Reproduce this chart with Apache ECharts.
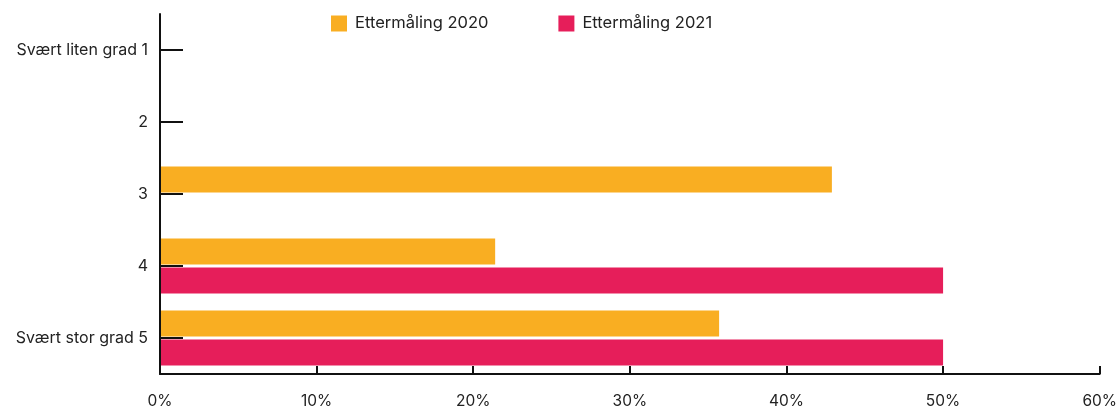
<!DOCTYPE html>
<html>
<head>
<meta charset="utf-8">
<script src="https://cdn.jsdelivr.net/npm/echarts@6/dist/echarts.min.js"></script>
<style>html,body{margin:0;padding:0;background:#fff}#c{width:1120px;height:409px}</style>
</head>
<body>
<div id="c"></div>
<script>
const categories = ["Svært liten grad 1", "2", "3", "4", "Svært stor grad 5"];
const seriesNames = ["Ettermåling 2020", "Ettermåling 2021"];
const values2020 = [null, null, 42.9, 21.4, 35.7];
const values2021 = [null, null, null, 50, 50];
const xTicks = [0, 10, 20, 30, 40, 50, 60];

const font = "Inter";
const textColor = "#222";
const chart = echarts.init(document.getElementById('c'));
chart.setOption({
  animation: false,
  textStyle: { fontFamily: font },
  legend: {
    left: 326, top: 10,
    itemWidth: 16, itemHeight: 16, itemGap: 70,
    icon: 'rect',
    textStyle: { fontFamily: font, fontSize: 16.5, color: textColor, padding: [0, 0, 4, 3] },
    data: seriesNames
  },
  grid: { left: 160, right: 20, top: 14, bottom: 32, containLabel: false },
  xAxis: {
    type: 'value', min: 0, max: 60, interval: 10,
    axisLine: { show: true, lineStyle: { color: '#111', width: 2 } },
    axisTick: { show: true, inside: true, length: 8, lineStyle: { color: '#111', width: 2 } },
    splitLine: { show: false },
    axisLabel: { margin: 19, fontSize: 15.5, fontFamily: font, color: textColor, formatter: v => xTicks.includes(v) ? v + '%' : '' }
  },
  yAxis: {
    type: 'category', inverse: true, data: categories, z: 5,
    axisLine: { show: true, lineStyle: { color: '#111', width: 2 } },
    axisTick: { show: true, inside: true, length: 23, alignWithLabel: true, lineStyle: { color: '#111', width: 2 } },
    axisLabel: { margin: 12, fontSize: 16, fontFamily: font, color: textColor, padding: [0, 0, 6, 0] }
  },
  series: [
    { name: seriesNames[0], type: 'bar', data: values2020, barWidth: 26, barGap: '11.5%', itemStyle: { color: '#F9AE22' } },
    { name: seriesNames[1], type: 'bar', data: values2021, barWidth: 26, barGap: '11.5%', itemStyle: { color: '#E61E5A' } }
  ]
});
</script>
</body>
</html>
